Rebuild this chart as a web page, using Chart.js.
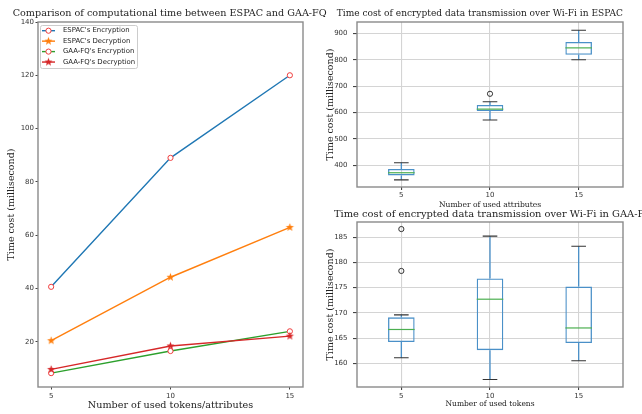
<!DOCTYPE html>
<html><head><meta charset="utf-8">
<script src="https://cdn.jsdelivr.net/npm/chart.js@4/dist/chart.umd.min.js"></script>
<style>
html,body{margin:0;padding:0;background:#fff;}
#wrap{position:relative;width:642px;height:414px;overflow:hidden;background:#fff;}
canvas{position:absolute;left:0;top:0;}
</style></head><body>
<div id="wrap">
<canvas id="cLine" width="642" height="414"></canvas>
<canvas id="cEspac" width="642" height="414"></canvas>
<canvas id="cGaa" width="642" height="414"></canvas>
</div>
<script>
// ---------------- data ----------------
const tokenCounts = [5, 10, 15];
const espacEncryption = [40.6, 89.0, 120.0];
const espacDecryption = [20.4, 44.2, 62.9];
const gaaEncryption = [8.2, 16.5, 23.9];
const gaaDecryption = [9.6, 18.4, 22.1];
const lineYTicks = [20, 40, 60, 80, 100, 120, 140];

const boxCategories = ['5', '10', '15'];
const espacLowWhisker = [345, 572, 800];
const espacQ1 = [362, 606, 819];
const espacMedian = [372, 613, 845];
const espacQ3 = [386, 629, 867];
const espacHighWhisker = [410, 641, 912];
const espacOutliers = [[], [671], []];
const espacYTicks = [400, 500, 600, 700, 800, 900];

const gaaLowWhisker = [161.1, 156.8, 160.5];
const gaaQ1 = [164.2, 162.6, 164.0];
const gaaMedian = [166.7, 172.7, 167.0];
const gaaQ3 = [169.1, 176.8, 175.2];
const gaaHighWhisker = [169.6, 185.2, 183.2];
const gaaOutliers = [[178.3, 186.6], [], []];
const gaaYTicks = [160, 165, 170, 175, 180, 185];

// ---------------- styling helpers ----------------
const SERIF = "'DejaVu Serif', serif";
const SANS = "'DejaVu Sans', sans-serif";
const mctx = document.createElement('canvas').getContext('2d');
function fitSize(text, family, width) {
  mctx.font = '100px ' + family;
  return 100 * width / mctx.measureText(text).width;
}
Chart.defaults.color = '#333';
Chart.defaults.animation = false;

const yLabelText = 'Time cost (millisecond)';
const yLabelSize = fitSize(yLabelText, SERIF, 112);
const tickFont = { family: SANS, size: 7 };

function starImage(color, r) {
  const c = document.createElement('canvas');
  const s = Math.ceil(r * 2) + 2;
  c.width = s; c.height = s;
  const g = c.getContext('2d');
  g.fillStyle = color;
  g.beginPath();
  for (let k = 0; k < 10; k++) {
    const rad = k % 2 ? r * 0.42 : r;
    const a = -Math.PI / 2 + k * Math.PI / 5;
    g.lineTo(s / 2 + rad * Math.cos(a), s / 2 + rad * Math.sin(a));
  }
  g.closePath(); g.fill();
  return c;
}

const framePlugin = {
  id: 'frame',
  afterDraw(chart) {
    const a = chart.chartArea, ctx = chart.ctx;
    ctx.save();
    ctx.strokeStyle = '#8a8a8a';
    ctx.lineWidth = 1.4;
    ctx.strokeRect(a.left, a.top, a.right - a.left, a.bottom - a.top);
    ctx.restore();
  }
};

const headPlugin = {
  id: 'head',
  afterDraw(chart, args, opts) {
    if (!opts || !opts.text) return;
    const ctx = chart.ctx;
    ctx.save();
    ctx.font = opts.size + 'px ' + SERIF;
    ctx.fillStyle = '#222';
    ctx.textBaseline = 'middle';
    ctx.textAlign = 'left';
    ctx.fillText(opts.text, opts.x, opts.y);
    ctx.restore();
  }
};

// ---------------- line chart ----------------
const encMarkerColor = '#f03c3c';
const orangeStar = starImage('#ff7f0e', 4.3);
const redStar = starImage('#d62728', 4.3);
const pts = arr => tokenCounts.map((x, i) => ({ x, y: arr[i] }));

const lineSeries = [
  { label: "ESPAC's Encryption", data: pts(espacEncryption), color: '#1f77b4', marker: 'circle' },
  { label: "ESPAC's Decryption", data: pts(espacDecryption), color: '#ff7f0e', marker: orangeStar },
  { label: "GAA-FQ's Encryption", data: pts(gaaEncryption), color: '#2ca02c', marker: 'circle' },
  { label: "GAA-FQ's Decryption", data: pts(gaaDecryption), color: '#d62728', marker: redStar }
];

const legendPlugin = {
  id: 'customLegend',
  afterDraw(chart) {
    const ctx = chart.ctx;
    const x0 = 40, y0 = 25, w = 97, h = 43;
    ctx.save();
    ctx.fillStyle = 'rgba(255,255,255,0.85)';
    ctx.strokeStyle = '#cccccc';
    ctx.lineWidth = 1;
    ctx.beginPath();
    ctx.roundRect(x0 + 0.5, y0 + 0.5, w, h, 2);
    ctx.fill(); ctx.stroke();
    const fs = fitSize("ESPAC's Encryption", SANS, 66.7);
    ctx.font = fs + 'px ' + SANS;
    ctx.textBaseline = 'middle';
    lineSeries.forEach((s, i) => {
      const y = y0 + 5.7 + i * 10.45;
      ctx.strokeStyle = s.color; ctx.lineWidth = 1.4;
      ctx.beginPath(); ctx.moveTo(42, y); ctx.lineTo(55, y); ctx.stroke();
      if (s.marker === 'circle') {
        ctx.fillStyle = '#fff'; ctx.strokeStyle = encMarkerColor; ctx.lineWidth = 1;
        ctx.beginPath(); ctx.arc(48.5, y, 2.6, 0, Math.PI * 2); ctx.fill(); ctx.stroke();
      } else {
        ctx.drawImage(s.marker, 48.5 - s.marker.width / 2, y - s.marker.height / 2);
      }
      ctx.fillStyle = '#222';
      ctx.fillText(s.label, 63, y);
    });
    ctx.restore();
  }
};

const xLabelA = 'Number of used tokens/attributes';
const xLabelASize = fitSize(xLabelA, SERIF, 165.6);
const titleA = 'Comparison of computational time between ESPAC and GAA-FQ';

new Chart(document.getElementById('cLine'), {
  type: 'line',
  data: {
    datasets: lineSeries.map((s, i) => ({
      label: s.label,
      data: s.data,
      borderColor: s.color,
      backgroundColor: s.color,
      borderWidth: 1.4,
      tension: 0,
      order: 3 - i,
      pointStyle: s.marker,
      pointRadius: s.marker === 'circle' ? 2.6 : 4.3,
      pointBorderWidth: 1,
      pointBorderColor: s.marker === 'circle' ? encMarkerColor : s.color,
      pointBackgroundColor: s.marker === 'circle' ? '#fff' : s.color
    }))
  },
  options: {
    responsive: false,
    layout: { padding: { left: 0, top: 22, right: 339, bottom: 0 } },
    plugins: {
      legend: { display: false }, tooltip: { enabled: false },
      head: { text: titleA, size: fitSize(titleA, SERIF, 315), x: 12.7, y: 13.5 }
    },
    scales: {
      x: {
        type: 'linear', min: 4.45, max: 15.55,
        afterBuildTicks: s => { s.ticks = tokenCounts.map(v => ({ value: v })); },
        afterFit: s => { s.height = 27; },
        ticks: { font: tickFont, padding: 2, maxRotation: 0 },
        grid: { drawOnChartArea: false, drawTicks: true, tickLength: 2.5, tickColor: '#444' },
        border: { display: false },
        title: { display: true, text: xLabelA, font: { family: SERIF, size: xLabelASize },
                 color: '#222', padding: { top: 0, bottom: 9 - 0.6 * xLabelASize } }
      },
      y: {
        type: 'linear', min: 3, max: 140,
        afterBuildTicks: s => { s.ticks = lineYTicks.map(v => ({ value: v })); },
        afterFit: s => { s.width = 38; },
        ticks: { font: tickFont, padding: 1.5 },
        grid: { drawOnChartArea: false, drawTicks: true, tickLength: 2.5, tickColor: '#444' },
        border: { display: false },
        title: { display: true, text: yLabelText, font: { family: SERIF, size: yLabelSize },
                 color: '#222', padding: { top: 11.5 - 0.6 * yLabelSize, bottom: 0 } }
      }
    }
  },
  plugins: [framePlugin, headPlugin, legendPlugin]
});

// ---------------- box plots ----------------
const boxPlugin = {
  id: 'boxExtras',
  afterDatasetsDraw(chart, args, o) {
    if (!o || !o.low) return;
    const ctx = chart.ctx;
    const xs = chart.scales.x, ys = chart.scales.y;
    const bars = chart.getDatasetMeta(0).data;
    ctx.save();
    ctx.beginPath();
    ctx.rect(chart.chartArea.left, chart.chartArea.top, chart.chartArea.right - chart.chartArea.left, chart.chartArea.bottom - chart.chartArea.top);
    ctx.clip();
    o.low.forEach((lo, i) => {
      const x = xs.getPixelForValue(i);
      const bw = bars[i].width;
      const cw = bw * 0.55;
      const yLo = ys.getPixelForValue(lo), yHi = ys.getPixelForValue(o.high[i]);
      const yQ1 = ys.getPixelForValue(o.q1[i]), yQ3 = ys.getPixelForValue(o.q3[i]);
      const yMed = ys.getPixelForValue(o.med[i]);
      ctx.strokeStyle = '#4a90c8'; ctx.lineWidth = 1.3;
      ctx.beginPath();
      ctx.moveTo(x, yQ1); ctx.lineTo(x, yLo);
      ctx.moveTo(x, yQ3); ctx.lineTo(x, yHi);
      ctx.stroke();
      ctx.strokeStyle = '#333'; ctx.lineWidth = 1.1;
      ctx.beginPath();
      ctx.moveTo(x - cw / 2, yLo); ctx.lineTo(x + cw / 2, yLo);
      ctx.moveTo(x - cw / 2, yHi); ctx.lineTo(x + cw / 2, yHi);
      ctx.stroke();
      ctx.strokeStyle = '#4caf50'; ctx.lineWidth = 1.2;
      ctx.beginPath();
      ctx.moveTo(x - bw / 2, yMed); ctx.lineTo(x + bw / 2, yMed);
      ctx.stroke();
    });
    ctx.restore();
  }
};

function boxChart(id, cfg) {
  const fliers = [];
  cfg.outliers.forEach((arr, i) => arr.forEach(v => fliers.push({ x: boxCategories[i], y: v })));
  const xSize = fitSize(cfg.xLabel, SERIF, cfg.xLabelWidth);
  return new Chart(document.getElementById(id), {
    type: 'bar',
    data: {
      labels: boxCategories,
      datasets: [
        {
          label: 'box',
          data: cfg.q1.map((v, i) => [v, cfg.q3[i]]),
          backgroundColor: 'rgba(0,0,0,0)',
          borderColor: '#4a90c8',
          borderWidth: 1.3,
          borderSkipped: false,
          barPercentage: 0.3,
          categoryPercentage: 1
        },
        {
          type: 'line',
          label: 'fliers',
          data: fliers,
          showLine: false,
          pointStyle: 'circle',
          pointRadius: 2.6,
          pointBorderWidth: 1,
          pointBorderColor: '#333',
          pointBackgroundColor: 'rgba(0,0,0,0)'
        }
      ]
    },
    options: {
      responsive: false,
      layout: { padding: cfg.padding },
      plugins: {
        legend: { display: false }, tooltip: { enabled: false },
        head: cfg.head,
        boxExtras: { low: cfg.low, q1: cfg.q1, med: cfg.med, q3: cfg.q3, high: cfg.high }
      },
      scales: {
        x: {
          type: 'category', offset: true,
          afterFit: s => { s.height = cfg.xHeight; },
          ticks: { font: tickFont, padding: cfg.xTickPad, maxRotation: 0 },
          grid: { offset: false, color: '#d4d4d4', lineWidth: 1.1, drawTicks: true, tickLength: 3, tickColor: '#444' },
          border: { display: false },
          title: { display: true, text: cfg.xLabel, font: { family: SERIF, size: xSize }, color: '#222',
                   padding: { top: 0, bottom: cfg.xTitleCenterFromBottom - 0.6 * xSize } }
        },
        y: {
          type: 'linear', min: cfg.yMin, max: cfg.yMax,
          afterBuildTicks: s => { s.ticks = cfg.yTicks.map(v => ({ value: v })); },
          afterFit: s => { s.width = 47; },
          ticks: { font: tickFont, padding: 5.5 },
          grid: { color: '#d4d4d4', lineWidth: 1.1, drawTicks: true, tickLength: 4, tickColor: '#444' },
          border: { display: false },
          title: { display: true, text: yLabelText, font: { family: SERIF, size: yLabelSize }, color: '#222',
                   padding: { top: 20.7 - 0.6 * yLabelSize, bottom: 0 } }
        }
      }
    },
    plugins: [framePlugin, headPlugin, boxPlugin]
  });
}

const titleB = 'Time cost of encrypted data transmission over Wi-Fi in ESPAC';
const titleBSize = fitSize(titleB, SERIF, 287);
const titleC = 'Time cost of encrypted data transmission over Wi-Fi in GAA-FQ';

boxChart('cEspac', {
  low: espacLowWhisker, q1: espacQ1, med: espacMedian, q3: espacQ3, high: espacHighWhisker,
  outliers: espacOutliers, yTicks: espacYTicks, yMin: 318, yMax: 943,
  padding: { left: 310, right: 19, top: 22, bottom: 203 },
  xHeight: 24, xTickPad: 0.8, xLabel: 'Number of used attributes', xLabelWidth: 102.4, xTitleCenterFromBottom: 6,
  head: { text: titleB, size: titleBSize, x: 336.7, y: 13.5 }
});

boxChart('cGaa', {
  low: gaaLowWhisker, q1: gaaQ1, med: gaaMedian, q3: gaaQ3, high: gaaHighWhisker,
  outliers: gaaOutliers, yTicks: gaaYTicks, yMin: 155.3, yMax: 188,
  padding: { left: 310, right: 19, top: 222, bottom: 0 },
  xHeight: 27, xTickPad: 1.6, xLabel: 'Number of used tokens', xLabelWidth: 89.3, xTitleCenterFromBottom: 10,
  head: { text: titleC, size: titleBSize * 1.09, x: 334, y: 214.5 }
});
</script>
</body></html>
